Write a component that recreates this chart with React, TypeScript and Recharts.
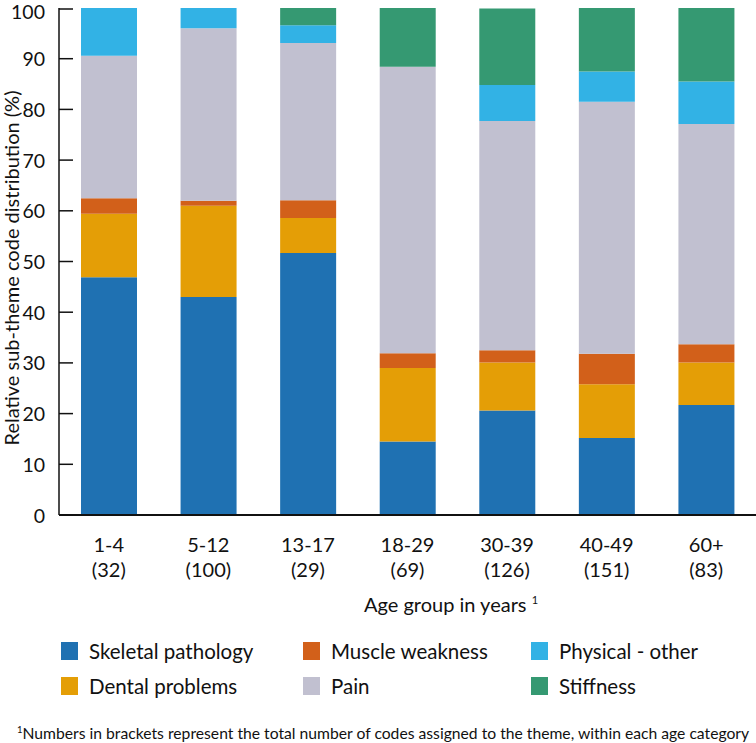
import React from 'react';
import { BarChart, Bar, XAxis, YAxis } from 'recharts';

// Age groups and number of codes per group
const ageGroups = ['1-4', '5-12', '13-17', '18-29', '30-39', '40-49', '60+'];
const codeCounts = ['32', '100', '29', '69', '126', '151', '83'];

// Relative sub-theme code distribution (%) per age group
const skeletal = [46.9, 43.0, 51.7, 14.5, 20.6, 15.2, 21.7];
const dental = [12.5, 18.0, 6.9, 14.5, 9.5, 10.6, 8.4];
const muscle = [3.1, 1.0, 3.5, 2.9, 2.4, 6.0, 3.6];
const pain = [28.1, 34.0, 31.0, 56.5, 45.2, 49.7, 43.4];
const physical = [9.4, 4.0, 3.5, 0, 7.1, 6.0, 8.4];
const stiffness = [0, 0, 3.4, 11.6, 15.1, 12.6, 14.5];

const yTicks = [0, 10, 20, 30, 40, 50, 60, 70, 80, 90, 100];

const series = [
  { key: 'skeletal', name: 'Skeletal pathology', color: '#1f71b2' },
  { key: 'dental', name: 'Dental problems', color: '#e49e06' },
  { key: 'muscle', name: 'Muscle weakness', color: '#d2601a' },
  { key: 'pain', name: 'Pain', color: '#c1c0d0' },
  { key: 'physical', name: 'Physical - other', color: '#32b2e5' },
  { key: 'stiffness', name: 'Stiffness', color: '#359972' },
];

const data = ageGroups.map((g, i) => ({
  group: g,
  count: codeCounts[i],
  skeletal: skeletal[i],
  dental: dental[i],
  muscle: muscle[i],
  pain: pain[i],
  physical: physical[i],
  stiffness: stiffness[i],
}));

const FONT = 'Lato, "Open Sans", sans-serif';
const AXIS_X = 59;

const YTick = (props: any) => {
  const { y, payload } = props;
  return (
    <g>
      <line x1={AXIS_X} x2={AXIS_X + 14} y1={y} y2={y} stroke="#111" strokeWidth={1.5} />
      {/* keep the top label inside the picture */}
      <text x={AXIS_X - 14} y={Math.max(y, 11)} textAnchor="end" dominantBaseline="central"
        fontSize={19.5} fill="#111" fontFamily={FONT}>
        {payload.value}
      </text>
    </g>
  );
};

const XTick = (props: any) => {
  const { x, y, payload, index } = props;
  return (
    <g>
      <text x={x} y={y + 29} textAnchor="middle" dominantBaseline="central"
        fontSize={20} fill="#111" fontFamily={FONT}>
        {payload.value}
      </text>
      <text x={x} y={y + 54} textAnchor="middle" dominantBaseline="central"
        fontSize={20} fill="#111" fontFamily={FONT}>
        ({codeCounts[index]})
      </text>
    </g>
  );
};

// legend layout: two rows, three columns
const legendCols = [61, 303, 531];

export default function App() {
  const legendOrder = [
    [series[0], series[2], series[4]],
    [series[1], series[3], series[5]],
  ];

  return (
    <div style={{ position: 'absolute', left: 0, top: 0, width: 756, height: 743, fontFamily: FONT, color: '#111', background: '#fff', overflow: 'hidden' }}>
      <BarChart width={756} height={743} data={data}
        margin={{ top: 8, right: 0, left: 0, bottom: 168 }}>
        <XAxis dataKey="group" height={60} tickLine={false} tickSize={0} tickMargin={0}
          axisLine={{ stroke: '#111', strokeWidth: 2 }} tick={<XTick />} interval={0} />
        <YAxis width={AXIS_X} domain={[0, 100]} ticks={yTicks} tickLine={false} tickSize={0} tickMargin={0}
          axisLine={{ stroke: '#111', strokeWidth: 1.5 }} tick={<YTick />} allowDataOverflow />
        {series.map(s => (
          <Bar key={s.key} dataKey={s.key} name={s.name} stackId="a" fill={s.color}
            barSize={56} isAnimationActive={false} />
        ))}
      </BarChart>

      {/* y axis title */}
      <div style={{ position: 'absolute', left: 11, top: 268, transform: 'translate(-50%, -50%) rotate(-90deg)', whiteSpace: 'nowrap', fontSize: 20 }}>
        Relative sub-theme code distribution (%)
      </div>

      {/* x axis title */}
      <div style={{ position: 'absolute', left: 451, top: 604, transform: 'translate(-50%, -50%)', whiteSpace: 'nowrap', fontSize: 20 }}>
        Age group in years <sup style={{ fontSize: 11 }}>1</sup>
      </div>

      {/* legend */}
      {legendOrder.map((row, r) =>
        row.map((s, c) => (
          <div key={s.key} style={{ position: 'absolute', left: legendCols[c], top: 651 + r * 35, transform: 'translateY(-50%)', display: 'flex', alignItems: 'center', whiteSpace: 'nowrap', fontSize: 20.5 }}>
            <span style={{ display: 'inline-block', width: 17, height: 18, background: s.color, marginRight: 11 }} />
            {s.name}
          </div>
        ))
      )}

      {/* footnote */}
      <div style={{ position: 'absolute', left: 17, top: 733, transform: 'translateY(-50%)', whiteSpace: 'nowrap', fontSize: 15.7 }}>
        <sup style={{ fontSize: 9.5 }}>1</sup>Numbers in brackets represent the total number of codes assigned to the theme, within each age category
      </div>
    </div>
  );
}
